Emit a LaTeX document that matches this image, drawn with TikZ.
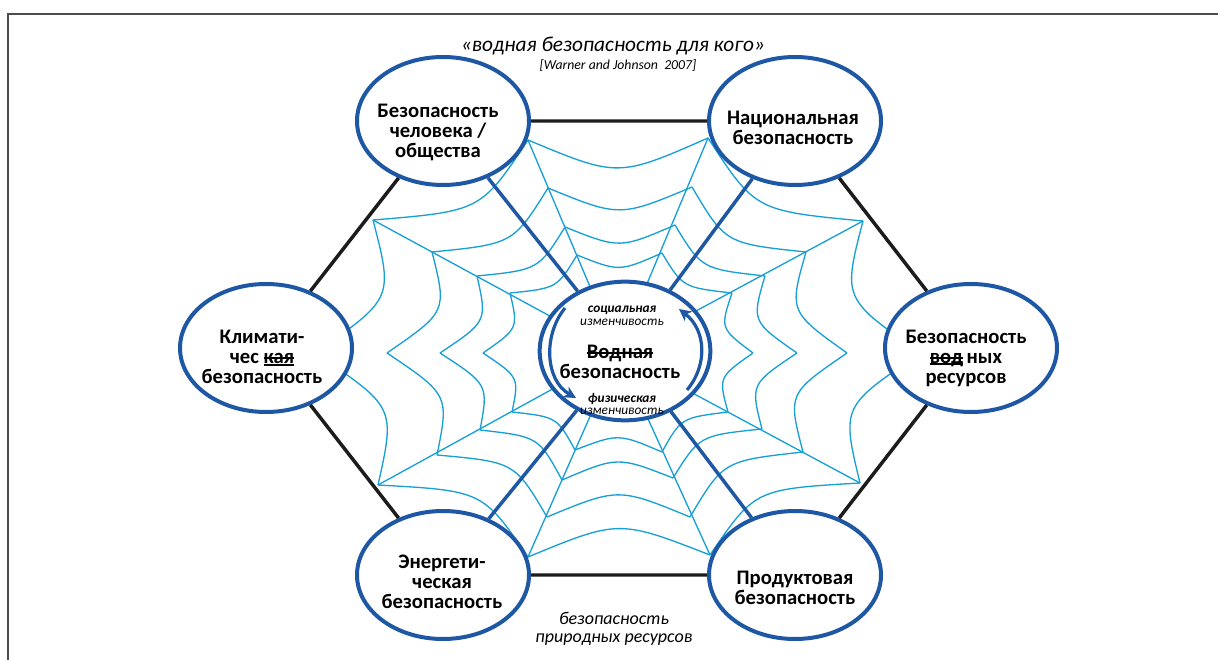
\documentclass[tikz,border=0pt]{standalone}
\usepackage{fontspec}
\setmainfont{Carlito}
\usetikzlibrary{arrows.meta,calc,shapes.geometric}

\definecolor{secblue}{RGB}{30,88,164}
\definecolor{webblue}{RGB}{24,160,214}
\definecolor{hexblack}{RGB}{28,28,28}

\newsavebox\wordbox
\newcommand\struck[1]{\sbox\wordbox{#1}\rlap{\rule[0.22em]{\wd\wordbox}{0.08em}}\usebox\wordbox}
\newcommand\struckul[1]{\sbox\wordbox{#1}\rlap{\rule[0.22em]{\wd\wordbox}{0.08em}}\rlap{\rule[-0.1em]{\wd\wordbox}{0.08em}}\usebox\wordbox}

\begin{document}
\begin{tikzpicture}[x=0.75pt,y=-0.75pt,
    web/.style={webblue, line width=1pt},
    bubble/.style={ellipse, draw=secblue, line width=3pt, fill=white,
      minimum width=129pt, minimum height=96pt, inner sep=0pt},
    bubtext/.style={font=\bfseries\fontsize{15.5}{15}\selectfont, align=center},
    side/.style={hexblack, line width=2.6pt},
    spoke/.style={secblue, line width=2.6pt},
    turn/.style={secblue, line width=2.4pt, -{Stealth[length=9pt,width=9pt,inset=2.5pt]}}]

        \useasboundingbox (0,0) rectangle (1218,660);

        % frame
        \draw[gray!60!black, line width=1pt] (8,660) -- (8,14) -- (1218,14);

        % centre of the web
        \coordinate (o) at (618,353);

        % rings of the web, from outside in
        \foreach \k/\x/\y in {0/921/353,1/863/221,2/708/138,3/528/140,4/373/220,
                              5/315/353,6/378/485,7/528/557,8/710/555,9/860/483}
            \coordinate (a\k) at (\x,\y);
        \foreach \k/\x/\y in {0/847/353,1/806/252,2/692/187,3/548/188,4/432/252,
                              5/387/353,6/437/455,7/547/517,8/690/517,9/803/452}
            \coordinate (b\k) at (\x,\y);
        \foreach \k/\x/\y in {0/797/353,1/765/276,2/675/225,3/565/227,4/477/276,
                              5/440/353,6/480/430,7/562/480,8/673/478,9/762/429}
            \coordinate (c\k) at (\x,\y);
        \foreach \k/\x/\y in {0/753/353,1/732/293,2/662/253,3/577/255,4/510/293,
                              5/483/353,6/512/412,7/575/450,8/662/452,9/728/412}
            \coordinate (d\k) at (\x,\y);

        \foreach \r in {a,b,c,d}
            \foreach \k in {0,...,9} {
                \pgfmathtruncatemacro\n{mod(\k+1,10)}
                \draw[web] (\r\k) .. controls ($(\r\k)!.5!(\r\n)!.18!(o)$) .. (\r\n);
            }
        \foreach \k in {1,2,3,4,6,7,8,9}
            \draw[web] (a\k) -- (o);

        % security types
        \node[bubble] (human) at (443,121) {};
        \node[bubble] (nation) at (795,121) {};
        \node[bubble] (climate) at (266,348) {};
        \node[bubble] (water) at (971,348) {};
        \node[bubble] (energy) at (443,575) {};
        \node[bubble] (food) at (795,575) {};
        \node[bubble, minimum width=128pt, minimum height=104pt] (core) at (625,351) {};

        \draw[side] (human) -- (nation) -- (water) -- (food) -- (energy) -- (climate) -- (human);
        \foreach \s in {human,nation,energy,food}
            \draw[spoke] (\s) -- (core);

        \node[bubtext] (humantxt) at (438,132) {Безопасность\\человека /\\общества};
        \node[bubtext] (nationtxt) at (793,128) {Национальная\\безопасность};
        \node[bubtext] (climatetxt) at (262,357) {Климати-\\чес \struckul{кая}\\безопасность};
        \node[bubtext] (watertxt) at (966,358) {Безопасность\\\struckul{вод}\,ных\\ресурсов};
        \node[bubtext] (energytxt) at (442,582) {Энергети-\\ческая\\безопасность};
        \node[bubtext] (foodtxt) at (795,588) {Продуктовая\\безопасность};
        \node[bubtext] (coretxt) at (620,362) {\struck{Водная}\\безопасность};

        % variability inside the core
        \node[font=\fontsize{10}{9.5}\selectfont, align=center] (social) at (622,316)
            {\textbf{\textit{социальная}}\\\textit{изменчивость}};
        \node[font=\fontsize{10}{9.5}\selectfont, align=center] (physical) at (622,404)
            {\textbf{\textit{физическая}}\\\textit{изменчивость}};
        \draw[turn] (565,308) .. controls (543,335) and (545,380) .. (576,398);
        \draw[turn] (687,390) .. controls (708,365) and (706,330) .. (679,309);

        % titles
        \node[font=\itshape\fontsize{16}{18}\selectfont] (title) at (613,46) {«водная безопасность для кого»};
        \node[font=\itshape\fontsize{10.3}{12}\selectfont] (cite) at (618,65) {[Warner and Johnson\ \ 2007]};
        \node[font=\itshape\fontsize{13.5}{13.5}\selectfont, align=center] (natres) at (614,629)
            {безопасность\\природных ресурсов};
    \end{tikzpicture}
\end{document}
